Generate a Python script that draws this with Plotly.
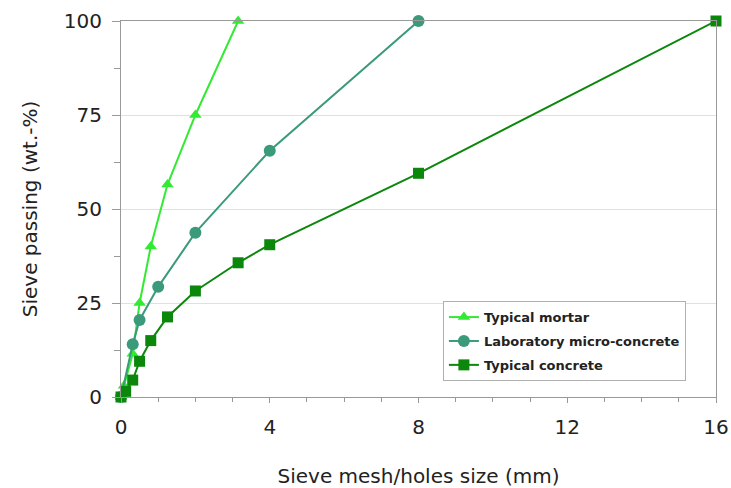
import plotly.graph_objects as go

# Grading curves: sieve size (mm) vs. cumulative passing (wt.-%)
mortar_x = [0, 0.08, 0.315, 0.5, 0.8, 1.25, 2, 3.15]
mortar_y = [0, 3, 11.5, 25, 40, 56.5, 75, 100]

micro_x = [0, 0.315, 0.5, 1, 2, 4, 8]
micro_y = [0, 14, 20.5, 29.3, 43.7, 65.5, 100]

concrete_x = [0, 0.125, 0.315, 0.5, 0.8, 1.25, 2, 3.15, 4, 8, 16]
concrete_y = [0, 1.5, 4.5, 9.5, 15, 21.3, 28.2, 35.7, 40.5, 59.5, 100]

names = ["Typical mortar", "Laboratory micro-concrete", "Typical concrete"]
colors = ["#33ea33", "#3a9a7a", "#0b870b"]
symbols = ["triangle-up", "circle", "square"]
sizes = [11, 12, 11]

x_ticks = [0, 4, 8, 12, 16]
y_ticks = [0, 25, 50, 75, 100]

FONT = "DejaVu Sans"

fig = go.Figure()
series = [(mortar_x, mortar_y), (micro_x, micro_y), (concrete_x, concrete_y)]
for i, (xs, ys) in enumerate(series):
    fig.add_trace(go.Scatter(
        x=xs, y=ys, mode="lines+markers", name=names[i],
        legendgroup=names[i],
        line=dict(color=colors[i], width=2),
        marker=dict(symbol=symbols[i], size=sizes[i], color=colors[i],
                    line=dict(width=0)),
        cliponaxis=False,
    ))

fig.update_layout(
    width=731, height=488,
    margin=dict(l=121, r=14.5, t=20.7, b=91),
    plot_bgcolor="white", paper_bgcolor="white",
    font=dict(family=FONT, color="#222", size=20),
    legend=dict(
        x=0.541, y=0.255, xanchor="left", yanchor="top",
        bgcolor="white", bordercolor="#b0b0b0", borderwidth=1,
        font=dict(family=FONT, size=13, color="#222", weight="bold"),
        tracegroupgap=4, itemwidth=30,
    ),
    showlegend=True,
)

fig.update_xaxes(
    range=[0, 16], tickvals=x_ticks, ticktext=[str(v) for v in x_ticks],
    showline=True, linecolor="#999", linewidth=1, mirror=True,
    ticks="outside", ticklen=5, tickcolor="#999",
    minor=dict(dtick=1, ticks="outside", ticklen=4, tickcolor="#999", showgrid=False),
    showgrid=False, zeroline=False, automargin=False,
    tickfont=dict(size=20), ticklabelstandoff=7,
    title=dict(text="Sieve mesh/holes size (mm)", font=dict(size=20), standoff=32),
)
fig.update_yaxes(
    range=[0, 100], tickvals=y_ticks, ticktext=[str(v) for v in y_ticks],
    showline=True, linecolor="#999", linewidth=1, mirror=True,
    ticks="outside", ticklen=8, tickcolor="#999",
    minor=dict(dtick=12.5, ticks="outside", ticklen=6, tickcolor="#999", showgrid=False),
    showgrid=True, gridcolor="#e0e0e0", gridwidth=1, zeroline=False, automargin=False,
    tickfont=dict(size=20), ticklabelstandoff=6,
    title=dict(text="Sieve passing (wt.-%)", font=dict(size=20), standoff=20),
)

fig.write_html("out.html")
